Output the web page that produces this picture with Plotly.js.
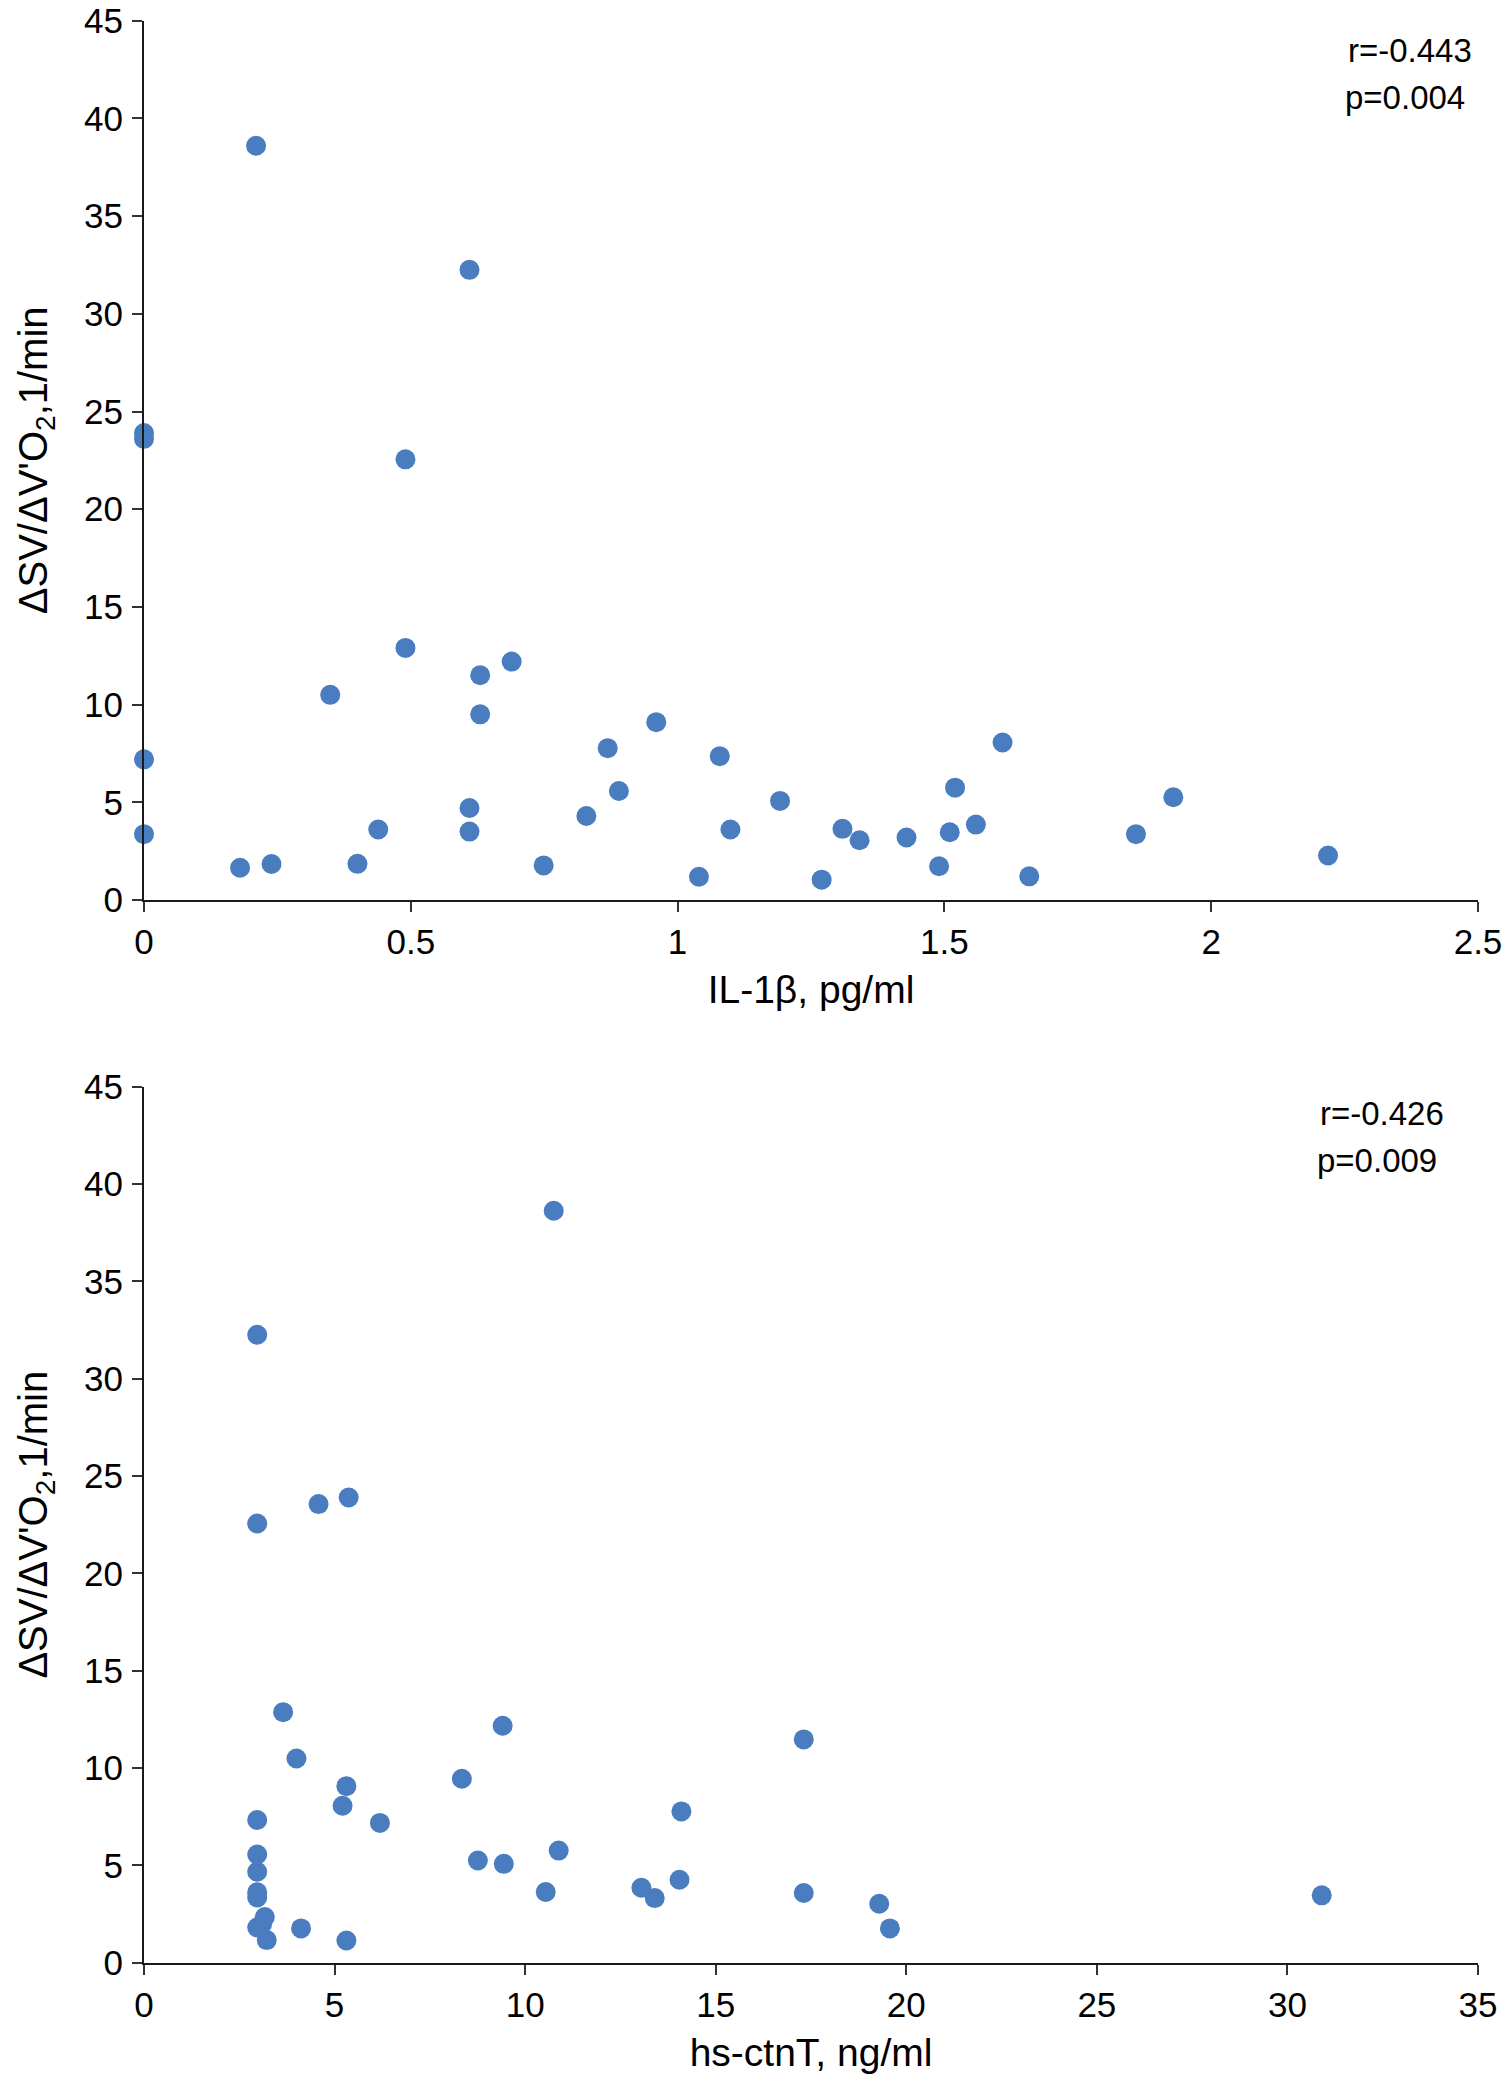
<!DOCTYPE html>
<html>
<head>
<meta charset="utf-8">
<script src="https://cdn.plot.ly/plotly-3.0.1.min.js"></script>
<style>html,body{margin:0;padding:0;background:#fff;}#chart{width:1503px;height:2082px;}</style>
</head>
<body>
<div id="chart"></div>
<script>
// Top panel: IL-1β vs ΔSV/ΔV'O2
const il1bX = [0.21, 0.61, 0, 0, 0.49, 0.49, 0.689, 0.63, 0.349, 0.63, 0.96, 0, 0.869, 1.079, 0.89, 0.61, 0.829, 0, 0.439, 0.61, 1.099, 0.18, 0.239, 0.40, 0.749, 1.04, 1.192, 1.609, 1.52, 1.929, 1.309, 1.341, 1.429, 1.51, 1.559, 1.859, 1.49, 1.27, 1.659, 2.219];
const il1bY = [38.6, 32.25, 23.9, 23.6, 22.55, 12.9, 12.2, 11.5, 10.5, 9.5, 9.1, 7.2, 7.77, 7.36, 5.58, 4.71, 4.3, 3.37, 3.61, 3.5, 3.61, 1.65, 1.84, 1.85, 1.77, 1.19, 5.07, 8.06, 5.75, 5.26, 3.64, 3.06, 3.2, 3.47, 3.86, 3.37, 1.73, 1.04, 1.21, 2.28];
// Bottom panel: hs-ctnT vs ΔSV/ΔV'O2
const ctntX = [10.75, 2.97, 2.97, 4.58, 5.37, 3.65, 9.41, 4.00, 8.34, 5.31, 5.21, 2.97, 6.19, 14.10, 2.97, 10.88, 8.76, 9.44, 2.97, 2.97, 2.97, 14.05, 13.05, 13.40, 10.54, 3.17, 2.97, 3.1, 3.22, 4.12, 5.31, 17.31, 17.31, 19.29, 19.57, 30.90];
const ctntY = [38.63, 32.26, 22.56, 23.56, 23.9, 12.87, 12.17, 10.49, 9.45, 9.07, 8.06, 7.33, 7.18, 7.77, 5.56, 5.76, 5.25, 5.08, 4.67, 3.62, 3.35, 4.26, 3.85, 3.32, 3.63, 2.35, 1.81, 2.0, 1.16, 1.76, 1.14, 11.47, 3.58, 3.03, 1.76, 3.46];

const yTitle = "ΔSV/ΔV'O<sub>2</sub>,1/min";
const xTitleTop = "IL-1β, pg/ml";
const xTitleBottom = "hs-ctnT, ng/ml";
const statsTop = ["r=-0.443", "p=0.004"];
const statsBottom = ["r=-0.426", "p=0.009"];

const FONT = "'Liberation Sans', Arial, Helvetica, sans-serif";
const markerStyle = {color: '#4a7dbf', size: 20};

const traces = [
  {x: il1bX, y: il1bY, type: 'scatter', mode: 'markers', marker: markerStyle, cliponaxis: false, xaxis: 'x', yaxis: 'y', showlegend: false},
  {x: ctntX, y: ctntY, type: 'scatter', mode: 'markers', marker: markerStyle, cliponaxis: false, xaxis: 'x2', yaxis: 'y2', showlegend: false}
];

const W = 1503, H = 2082;
const axisCommon = {
  showgrid: false, zeroline: false, showline: true, linewidth: 2, linecolor: '#1a1a1a',
  ticks: 'outside', ticklen: 10, tickwidth: 2, tickcolor: '#333',
  tickfont: {family: FONT, size: 35, color: '#000'}
};
const xdom = [144 / W, 1478 / W];

const layout = {
  width: W, height: H,
  margin: {l: 0, r: 0, t: 0, b: 0},
  paper_bgcolor: '#fff', plot_bgcolor: '#fff',
  font: {family: FONT, color: '#000'},
  xaxis: Object.assign({}, axisCommon, {
    domain: xdom, range: [0, 2.5], dtick: 0.5, anchor: 'y', ticklabelstandoff: 0,
    title: {text: xTitleTop, font: {family: FONT, size: 39, color: '#000'}, standoff: 16}
  }),
  yaxis: Object.assign({}, axisCommon, {
    domain: [1 - 900 / H, 1 - 20.7 / H], range: [0, 45], dtick: 5, anchor: 'x', ticklabelstandoff: 2,
    title: {text: yTitle, font: {family: FONT, size: 40, color: '#000'}, standoff: 24}
  }),
  xaxis2: Object.assign({}, axisCommon, {
    domain: xdom, range: [0, 35], dtick: 5, anchor: 'y2', ticklabelstandoff: 0,
    title: {text: xTitleBottom, font: {family: FONT, size: 39, color: '#000'}, standoff: 16}
  }),
  yaxis2: Object.assign({}, axisCommon, {
    domain: [1 - 1962.7 / H, 1 - 1086.7 / H], range: [0, 45], dtick: 5, anchor: 'x2', ticklabelstandoff: 2,
    title: {text: yTitle, font: {family: FONT, size: 40, color: '#000'}, standoff: 24}
  }),
  annotations: [
    {xref: 'paper', yref: 'paper', x: 1346 / W, y: 1 - 51 / H, xanchor: 'left', yanchor: 'middle', text: statsTop[0], showarrow: false, font: {family: FONT, size: 33, color: '#000'}},
    {xref: 'paper', yref: 'paper', x: 1343 / W, y: 1 - 97 / H, xanchor: 'left', yanchor: 'middle', text: statsTop[1], showarrow: false, font: {family: FONT, size: 33, color: '#000'}},
    {xref: 'paper', yref: 'paper', x: 1318 / W, y: 1 - 1113 / H, xanchor: 'left', yanchor: 'middle', text: statsBottom[0], showarrow: false, font: {family: FONT, size: 33, color: '#000'}},
    {xref: 'paper', yref: 'paper', x: 1315 / W, y: 1 - 1160 / H, xanchor: 'left', yanchor: 'middle', text: statsBottom[1], showarrow: false, font: {family: FONT, size: 33, color: '#000'}}
  ]
};

Plotly.newPlot('chart', traces, layout, {displayModeBar: false, staticPlot: true});
</script>
</body>
</html>
